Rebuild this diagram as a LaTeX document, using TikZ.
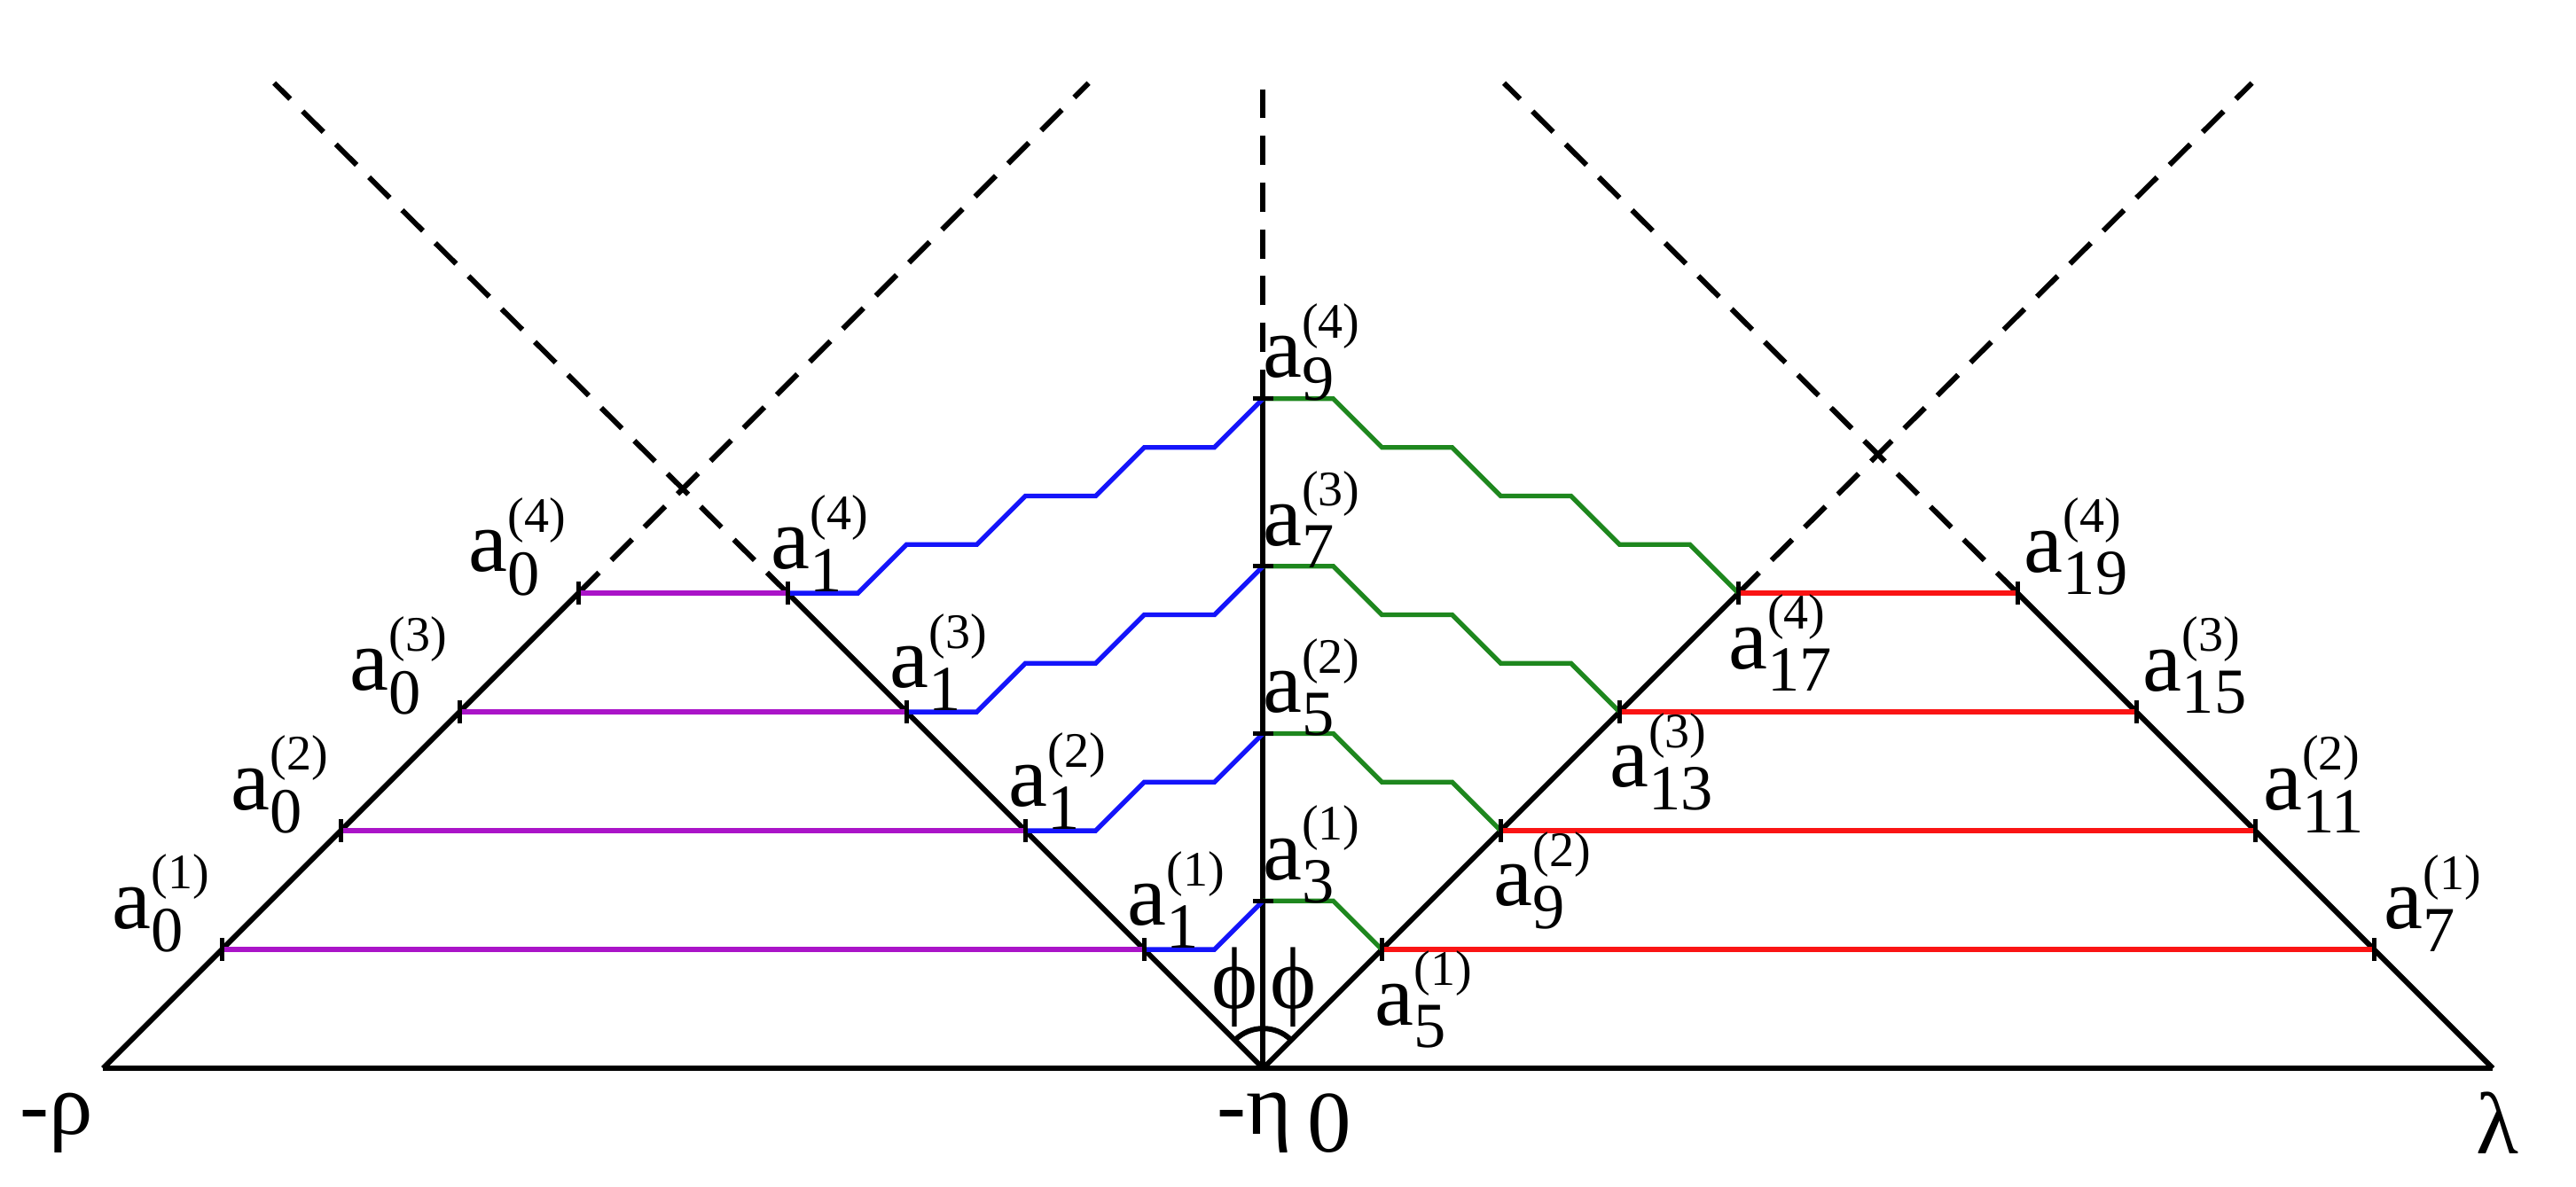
\documentclass[tikz,border=0pt]{standalone}
\usepackage{fontspec}
\setmainfont{Liberation Serif}
\definecolor{lpurple}{RGB}{170,20,200}
\definecolor{lblue}{RGB}{20,20,250}
\definecolor{lgreen}{RGB}{30,135,30}
\definecolor{lred}{RGB}{250,20,20}
\newcommand{\al}[2]{a$_{\hbox{\fontsize{11}{11}\selectfont #1}}^{\hbox{\fontsize{8.5}{9}\selectfont(#2)}}$}
\tikzset{
  edge/.style={line width=0.9pt, black},
  ghost/.style={line width=0.9pt, black, dashed, dash pattern=on 5pt off 3pt},
  lvl/.style={line width=0.8pt},
  lab/.style={font=\fontsize{15}{17}\selectfont, inner sep=0pt},
  tick/.style={line width=0.8pt}
}
\begin{document}
\begin{tikzpicture}[x=0.01cm,y=-0.01cm]
    \useasboundingbox (0,0) rectangle (1550,714);
    \coordinate (L) at (62,643);
    \coordinate (O) at (760,643);
    \coordinate (R) at (1500,643);
    \coordinate (LT) at (348,357);
    \coordinate (LI) at (474,357);
    \coordinate (MT) at (760,240);
    \coordinate (RI) at (1046,357);
    \coordinate (RT) at (1214,357);

    % frame
    \draw[edge] (L) -- (R);
    \draw[edge] (L) -- (LT);
    \draw[edge] (O) -- (LI);
    \draw[edge] (O) -- (MT);
    \draw[edge] (O) -- (RI);
    \draw[edge] (R) -- (RT);
    \draw[ghost] (LT) -- (655,50);
    \draw[ghost] (LI) -- (165,50);
    \draw[ghost] (MT) -- (760,50);
    \draw[ghost] (RI) -- (1355,50);
    \draw[ghost] (RT) -- (905,50);

    % angle
    \draw[edge] (O) ++(-45:24) arc (-45:-135:24);
    \node[lab] (phil) at (743,594) {ϕ};
    \node[lab] (phir) at (778,594) {ϕ};

    \foreach \k in {1,...,4}{
        \pgfmathsetmacro\h{71.5*\k}
        \pgfmathsetmacro\v{100.75*\k}
        \pgfmathtruncatemacro\im{2*\k+1}
        \pgfmathtruncatemacro\ir{4*\k+1}
        \pgfmathtruncatemacro\io{4*\k+3}
        \coordinate (lo\k) at (62+\h,643-\h);
        \coordinate (li\k) at (760-\h,643-\h);
        \coordinate (m\k) at (760,643-\v);
        \coordinate (ri\k) at (760+\h,643-\h);
        \coordinate (ro\k) at (1500-\h,643-\h);

        \draw[lvl, lpurple] (lo\k) -- (li\k);
        \draw[lvl, lred] (ri\k) -- (ro\k);
        \draw[lvl, lblue] (li\k) \foreach \j in {1,...,\k}{ -- ++(42.25,0) -- ++(29.25,-29.25)};
        \draw[lvl, lgreen] (m\k) \foreach \j in {1,...,\k}{ -- ++(42.25,0) -- ++(29.25,29.25)};

        \foreach \p in {lo\k,li\k,ri\k,ro\k}
            \draw[tick] (\p) ++(0,-7) -- ++(0,14);
        \draw[tick] (m\k) ++(-6,0) -- ++(12,0);

        \node[lab] (alo\k) at ([shift={(-36,-28)}]lo\k) {\al{0}{\k}};
        \node[lab] (ali\k) at ([shift={(20,-30)}]li\k) {\al{1}{\k}};
        \node[lab] (am\k) at ([shift={(30,-28)}]m\k) {\al{\im}{\k}};
        \node[lab] (ari\k) at ([shift={(26,30)}]ri\k) {\al{\ir}{\k}};
        \node[lab] (aro\k) at ([shift={(36,-28)}]ro\k) {\al{\io}{\k}};
    }

    \node[lab] (rho) at (34,676) {-ρ};
    \node[lab] (eta) at (755,676) {-η};
    \node[lab] (zero) at (800,676) {0};
    \node[lab] (lam) at (1503,676) {λ};
\end{tikzpicture}
\end{document}
